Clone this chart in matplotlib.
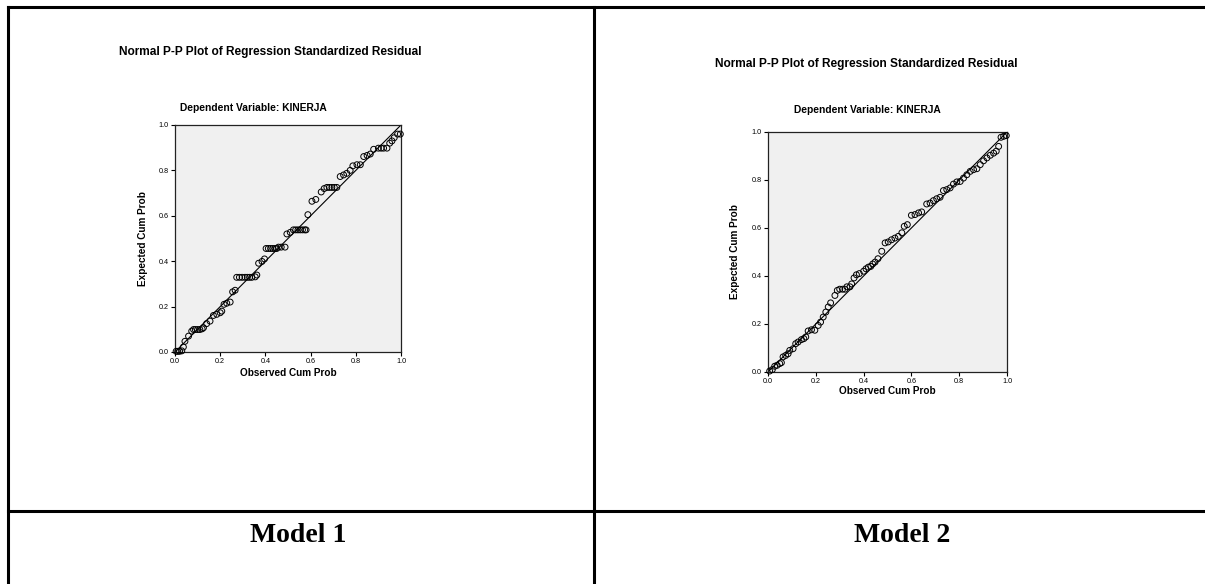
import matplotlib
matplotlib.use("Agg")
import matplotlib.pyplot as plt
from matplotlib.lines import Line2D

# ---------------- data ----------------
m1_obs = [0.005, 0.012, 0.02, 0.03, 0.037, 0.044, 0.06, 0.074, 0.082, 0.09, 0.1, 0.11, 0.12,
          0.126, 0.14, 0.155, 0.17, 0.185, 0.2, 0.207, 0.217, 0.229, 0.244, 0.255, 0.266,
          0.273, 0.285, 0.297, 0.31, 0.32, 0.33, 0.34, 0.355, 0.362, 0.37, 0.385, 0.396,
          0.403, 0.413, 0.423, 0.433, 0.443, 0.45, 0.458, 0.47, 0.487, 0.495, 0.51,
          0.524, 0.534, 0.544, 0.554, 0.564, 0.574, 0.58, 0.588, 0.606, 0.623, 0.647, 0.66,
          0.672, 0.683, 0.694, 0.705, 0.716, 0.731, 0.746, 0.76, 0.775, 0.787, 0.805, 0.82,
          0.835, 0.85, 0.864, 0.879, 0.9, 0.912, 0.923, 0.938, 0.95, 0.96, 0.97, 0.985, 0.997]
m1_exp = [0.003, 0.003, 0.003, 0.005, 0.022, 0.047, 0.07, 0.092, 0.099, 0.099, 0.099, 0.099, 0.102,
          0.107, 0.125, 0.136, 0.161, 0.166, 0.173, 0.18, 0.21, 0.215, 0.22, 0.265, 0.272,
          0.329, 0.329, 0.329, 0.329, 0.329, 0.329, 0.329, 0.331, 0.339, 0.391, 0.399, 0.41,
          0.456, 0.456, 0.456, 0.456, 0.456, 0.456, 0.462, 0.462, 0.462, 0.52, 0.527,
          0.538, 0.538, 0.538, 0.538, 0.538, 0.538, 0.538, 0.605, 0.664, 0.672, 0.705, 0.72,
          0.725, 0.725, 0.725, 0.725, 0.725, 0.773, 0.78, 0.787, 0.8, 0.82, 0.825, 0.825,
          0.861, 0.866, 0.872, 0.893, 0.898, 0.898, 0.898, 0.898, 0.92, 0.93, 0.944, 0.96, 0.96]

m2_obs = [0.007, 0.018, 0.028, 0.038, 0.049, 0.056, 0.063, 0.074, 0.084, 0.091, 0.105, 0.116,
          0.126, 0.14, 0.15, 0.158, 0.168, 0.182, 0.196, 0.21, 0.22, 0.231, 0.242, 0.252,
          0.262, 0.28, 0.29, 0.3, 0.312, 0.322, 0.33, 0.343, 0.35, 0.36, 0.37, 0.382, 0.4,
          0.41, 0.42, 0.43, 0.438, 0.448, 0.46, 0.476, 0.49, 0.503, 0.517, 0.531, 0.545,
          0.56, 0.57, 0.583, 0.6, 0.615, 0.63, 0.643, 0.664, 0.678, 0.692, 0.706, 0.72,
          0.734, 0.748, 0.762, 0.776, 0.79, 0.804, 0.818, 0.832, 0.846, 0.86, 0.874, 0.888,
          0.902, 0.916, 0.93, 0.944, 0.955, 0.965, 0.975, 0.986, 0.997]
m2_exp = [0.004, 0.01, 0.024, 0.028, 0.035, 0.039, 0.063, 0.069, 0.076, 0.09, 0.097, 0.118,
          0.125, 0.135, 0.139, 0.146, 0.171, 0.176, 0.174, 0.194, 0.208, 0.229, 0.25, 0.271,
          0.288, 0.319, 0.34, 0.345, 0.345, 0.345, 0.355, 0.355, 0.367, 0.392, 0.405, 0.41,
          0.42, 0.43, 0.437, 0.44, 0.45, 0.458, 0.472, 0.503, 0.538, 0.542, 0.551, 0.558,
          0.565, 0.58, 0.607, 0.614, 0.653, 0.656, 0.663, 0.667, 0.7, 0.704, 0.714, 0.722,
          0.728, 0.756, 0.76, 0.767, 0.783, 0.792, 0.794, 0.808, 0.822, 0.836, 0.843, 0.847,
          0.864, 0.88, 0.892, 0.903, 0.912, 0.92, 0.94, 0.978, 0.982, 0.985]

ticks = [0.0, 0.2, 0.4, 0.6, 0.8, 1.0]
tick_labels = ["0.0", "0.2", "0.4", "0.6", "0.8", "1.0"]
title_text = "Normal P-P Plot of Regression Standardized Residual"
subtitle_text = "Dependent Variable: KINERJA"
xlabel_text = "Observed Cum Prob"
ylabel_text = "Expected Cum Prob"
model_labels = ["Model 1", "Model 2"]

# ---------------- layout ----------------
W, H = 1205, 584
fig = plt.figure(figsize=(W / 100, H / 100), dpi=100)
plt.rcParams['font.family'] = ['Liberation Sans', 'DejaVu Sans']


def fx(px):
    return px / W


def fy(py):
    return 1 - py / H


def add_line(x0, y0, x1, y1, lw=2.2):
    fig.add_artist(Line2D([fx(x0), fx(x1)], [fy(y0), fy(y1)], color='black',
                          linewidth=lw, transform=fig.transFigure, solid_capstyle='projecting'))


# table borders
add_line(8, 7, 1210, 7)
add_line(8, 7, 8, 590)
add_line(594, 7, 594, 590)
add_line(8, 511, 1210, 511)


def make_panel(box, obs, exp, title_xy, sub_xy, ylab_x, xlab_y):
    x0, y0, x1, y1 = box  # pixel coords: left, top, right, bottom
    ax = fig.add_axes([fx(x0), fy(y1), (x1 - x0) / W, (y1 - y0) / H])
    ax.set_facecolor('#f0f0f0')
    ax.plot([0, 1], [0, 1], color='black', linewidth=0.8, zorder=2)
    ax.scatter(obs, exp, s=18, facecolors='none', edgecolors='black', linewidths=0.7, zorder=3,
               clip_on=False)
    ax.set_xlim(0, 1)
    ax.set_ylim(0, 1)
    ax.set_xticks(ticks)
    ax.set_yticks(ticks)
    ax.set_xticklabels(tick_labels)
    ax.set_yticklabels(tick_labels)
    ax.tick_params(direction='out', length=3, width=0.8, labelsize=5.2, pad=1.5, colors='black')
    for sp in ax.spines.values():
        sp.set_linewidth(0.9)
        sp.set_color('#222222')
    fig.text(fx(title_xy[0]), fy(title_xy[1]), title_text, ha='center', va='center',
             fontsize=8.6, fontweight='bold')
    fig.text(fx(sub_xy[0]), fy(sub_xy[1]), subtitle_text, ha='center', va='center',
             fontsize=7.4, fontweight='bold')
    fig.text(fx(ylab_x), fy((y0 + y1) / 2), ylabel_text, ha='center', va='center',
             rotation=90, fontsize=7.2, fontweight='bold')
    fig.text(fx((x0 + x1) / 2), fy(xlab_y), xlabel_text, ha='center', va='center',
             fontsize=7.2, fontweight='bold')
    return ax


make_panel((175, 125, 401, 352), m1_obs, m1_exp, (270, 52), (253, 108), 143, 373)
make_panel((768, 132, 1007, 372), m2_obs, m2_exp, (866, 64), (867, 110), 735, 391)

fig.text(fx(298), fy(536), model_labels[0], ha='center', va='center',
         fontsize=20, fontweight='bold', family=['Liberation Serif', 'DejaVu Serif'])
fig.text(fx(902), fy(536), model_labels[1], ha='center', va='center',
         fontsize=20, fontweight='bold', family=['Liberation Serif', 'DejaVu Serif'])

fig.savefig("out.png", dpi=100, facecolor='white')
